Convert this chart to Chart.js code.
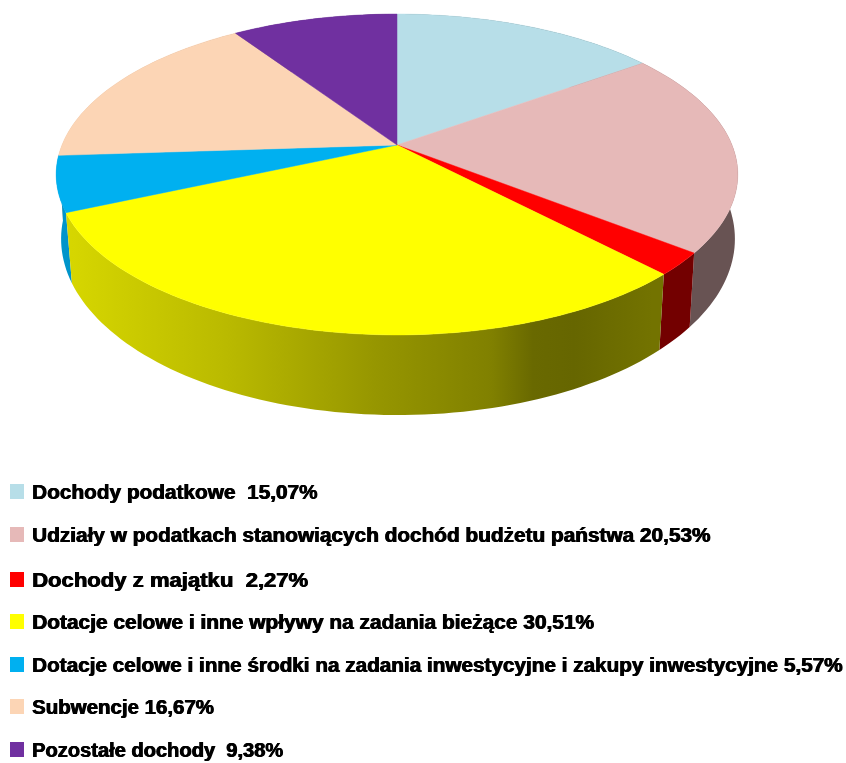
<!DOCTYPE html>
<html lang="pl">
<head>
<meta charset="utf-8">
<title>Dochody</title>
<script src="https://cdn.jsdelivr.net/npm/chart.js@4"></script>
<style>
  body { margin: 0; background: #fff; }
  #wrap { position: relative; width: 846px; height: 763px; overflow: hidden; }
  canvas { position: absolute; left: 0; top: 0; filter: blur(0.6px); }
  #legend { position: absolute; left: 0; top: 0; filter: blur(0.5px); }
  .swatch { position: absolute; left: 10px; width: 14px; height: 15px; }
  .label {
    position: absolute; left: 32px; white-space: pre; transform-origin: 0 50%;
    font: bold 20px "Liberation Sans", sans-serif; line-height: 20px; color: #000;
    text-shadow: 0.6px 0 0 #000, -0.3px 0 0 #000;
  }
</style>
</head>
<body>
<div id="wrap">
  <canvas id="chart" width="846" height="763"></canvas>
  <div id="legend"></div>
</div>
<script>
const categories = [
  "Dochody podatkowe  ",
  "Udziały w podatkach stanowiących dochód budżetu państwa ",
  "Dochody z majątku  ",
  "Dotacje celowe i inne wpływy na zadania bieżące ",
  "Dotacje celowe i inne środki na zadania inwestycyjne i zakupy inwestycyjne ",
  "Subwencje ",
  "Pozostałe dochody  "
];
const values = [15.07, 20.53, 2.27, 30.51, 5.57, 16.67, 9.38];
const colors = ["#B7DEE8", "#E6B9B8", "#FF0000", "#FFFF00", "#00B0F0", "#FCD5B5", "#7030A0"];

// legend layout: row centre and right edge of each text
const rowY = [492, 535, 580, 622, 665, 707, 750];
const rowEnd = [318, 710, 308, 594, 843, 214, 283];

// perspective of the disc, top rim and bottom rim
const topRim = { x: 397, a: 335, b: 155, y: 145, p: -0.1838 };
const botRim = { x: 398, a: 332, b: 171, y: 209, p: -0.17 };

// shading of the side wall from left to right
const wallShade = [[0, 0.85], [0.25, 0.73], [0.47, 0.59], [0.64, 0.5], [0.7, 0.41], [0.76, 0.4], [0.875, 0.45], [1, 0.45]];

function project(rim, angle) {
  const X = Math.cos(angle), Y = Math.sin(angle), d = 1 + rim.p * Y;
  return [rim.x + rim.a * X / d, rim.y + rim.b * Y / d];
}

function rimPath(ctx, rim, from, to) {
  const steps = Math.max(2, Math.ceil(Math.abs(to - from) * 40));
  for (let i = 0; i <= steps; i++) {
    const p = project(rim, from + (to - from) * i / steps);
    ctx.lineTo(p[0], p[1]);
  }
}

function wallFill(ctx, color) {
  const r = parseInt(color.slice(1, 3), 16), g = parseInt(color.slice(3, 5), 16), b = parseInt(color.slice(5, 7), 16);
  const grad = ctx.createLinearGradient(55, 0, 738, 0);
  wallShade.forEach(s => grad.addColorStop(s[0], `rgb(${r * s[1]},${g * s[1]},${b * s[1]})`));
  return grad;
}

const perspectivePie = {
  id: "perspectivePie",
  beforeDatasetsDraw(chart) {
    const ctx = chart.ctx;
    const arcs = chart.getDatasetMeta(0).data.map((arc, i) => ({ arc, color: colors[i] }));

    // walls, back to front
    const front = a => Math.sin((a.arc.startAngle + a.arc.endAngle) / 2);
    [...arcs].sort((p, q) => front(p) - front(q)).forEach(({ arc, color }) => {
      ctx.beginPath();
      rimPath(ctx, topRim, arc.startAngle, arc.endAngle);
      rimPath(ctx, botRim, arc.endAngle, arc.startAngle);
      ctx.closePath();
      ctx.fillStyle = wallFill(ctx, color);
      ctx.fill();
    });

    // top face
    arcs.forEach(({ arc, color }) => {
      ctx.beginPath();
      ctx.moveTo(topRim.x, topRim.y);
      rimPath(ctx, topRim, arc.startAngle, arc.endAngle);
      ctx.closePath();
      ctx.fillStyle = color;
      ctx.strokeStyle = color;
      ctx.lineWidth = 0.5;
      ctx.fill();
      ctx.stroke();
    });
    return false;
  }
};

new Chart(document.getElementById("chart"), {
  type: "pie",
  data: {
    labels: categories,
    datasets: [{ data: values, backgroundColor: colors, borderWidth: 0 }]
  },
  options: {
    responsive: false,
    animation: false,
    plugins: { legend: { display: false }, tooltip: { enabled: false } }
  },
  plugins: [perspectivePie]
});

// legend
const legend = document.getElementById("legend");
categories.forEach((name, i) => {
  const box = document.createElement("div");
  box.className = "swatch";
  box.style.top = (rowY[i] - 8) + "px";
  box.style.background = colors[i];
  legend.appendChild(box);

  const text = document.createElement("div");
  text.className = "label";
  text.textContent = name + values[i].toFixed(2).replace(".", ",") + "%";
  text.style.top = (rowY[i] - 10) + "px";
  legend.appendChild(text);
  text.style.transform = `scaleX(${(rowEnd[i] - 32) / text.offsetWidth})`;
});
</script>
</body>
</html>
